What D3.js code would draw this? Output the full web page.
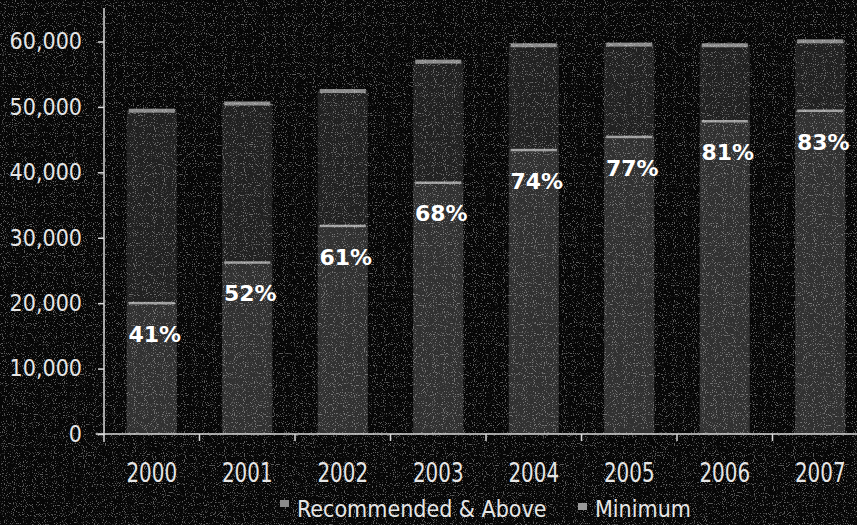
<!DOCTYPE html>
<html>
<head>
<meta charset="utf-8">
<script src="https://cdn.jsdelivr.net/npm/d3@7"></script>
<style>
  html, body { margin: 0; padding: 0; background: #070707; }
  svg { display: block; }
</style>
</head>
<body>
<svg id="chart" width="857" height="525"></svg>
<script>
// ---- data ----
const years = ["2000", "2001", "2002", "2003", "2004", "2005", "2006", "2007"];
const recommended = [20200, 26400, 32000, 38600, 43600, 45600, 48000, 49600];
const minimum = [29300, 24200, 20500, 18400, 15900, 14000, 11500, 10500];
const percentLabels = ["41%", "52%", "61%", "68%", "74%", "77%", "81%", "83%"];
const seriesNames = ["Recommended & Above", "Minimum"];
const yTicks = [0, 10000, 20000, 30000, 40000, 50000, 60000];

const svg = d3.select("#chart");
const W = 857, H = 525;
const condensed = "DejaVu Sans Condensed, DejaVu Sans, sans-serif";

// subtle speckle texture to mimic the scanned look
const defs = svg.append("defs");
const f = defs.append("filter").attr("id", "speckle").attr("x", 0).attr("y", 0).attr("width", "100%").attr("height", "100%");
f.append("feTurbulence").attr("type", "fractalNoise").attr("baseFrequency", 0.9).attr("numOctaves", 1).attr("seed", 3).attr("result", "n");
f.append("feColorMatrix").attr("in", "n").attr("type", "matrix")
  .attr("values", "0 0 0 0 1  0 0 0 0 1  0 0 0 0 1  0 0 0 9 -5.2");
f.append("feComposite").attr("in2", "SourceGraphic").attr("operator", "in");

svg.append("rect").attr("width", W).attr("height", H).attr("fill", "#070707");

const x0 = 104, bandW = 95.5;
const x = d3.scaleBand().domain(years).range([x0, x0 + bandW * years.length]).paddingInner(0.475).paddingOuter(0.2375);
const y = d3.scaleLinear().domain([0, 60000]).range([434, 41.5]);

const stackData = years.map((yr, i) => ({ year: yr, rec: recommended[i], min: minimum[i] }));
const stack = d3.stack().keys(["rec", "min"])(stackData);
const fills = ["#313131", "#212121"];
const caps = ["#a0a0a0", "#8c8c8c"];

const g = svg.append("g");
stack.forEach((layer, li) => {
  const grp = g.append("g");
  grp.selectAll("rect.seg").data(layer).join("rect")
    .attr("class", "seg")
    .attr("x", d => x(d.data.year))
    .attr("width", x.bandwidth())
    .attr("y", d => y(d[1]))
    .attr("height", d => y(d[0]) - y(d[1]))
    .attr("fill", fills[li]);
  grp.selectAll("rect.cap").data(layer).join("rect")
    .attr("class", "cap")
    .attr("x", d => x(d.data.year) + 2)
    .attr("width", x.bandwidth() - 4)
    .attr("y", d => y(d[1]) - 1.5)
    .attr("height", 4)
    .attr("fill", caps[li]);
});

// speckle overlay
svg.append("rect").attr("width", W).attr("height", H).attr("fill", "#fff").attr("filter", "url(#speckle)").attr("opacity", 0.35);

// percentage labels
svg.append("g").selectAll("text").data(stackData).join("text")
  .attr("x", (d, i) => x(d.year) + x.bandwidth() / 2 + 3)
  .attr("y", (d, i) => y(recommended[i]) + 40)
  .attr("text-anchor", "middle")
  .attr("font-family", "DejaVu Sans, Verdana, sans-serif")
  .attr("font-weight", "bold")
  .attr("font-size", 22)
  .attr("fill", "#ffffff")
  .text((d, i) => percentLabels[i]);

// y axis
const yAxis = d3.axisLeft(y).tickValues(yTicks).tickFormat(d3.format(",")).tickSize(6).tickPadding(16);
const ya = svg.append("g").attr("transform", `translate(${x0},0)`).call(yAxis);
ya.select(".domain").remove();
ya.selectAll("line").attr("stroke", "#d8d8d8").attr("stroke-width", 1.5);
ya.selectAll("text").attr("font-family", condensed).attr("font-size", 23).attr("fill", "#e6e6e6");
svg.append("line").attr("x1", x0).attr("x2", x0).attr("y1", 8).attr("y2", 442).attr("stroke", "#d8d8d8").attr("stroke-width", 1.5);

// x axis
const xAxis = d3.axisBottom(x).tickSize(0);
const xa = svg.append("g").attr("transform", `translate(0,${y(0)})`).call(xAxis);
xa.select(".domain").remove();
xa.selectAll("text")
  .attr("y", 48).attr("dy", 0)
  .attr("transform", "scale(0.85,1)")
  .attr("font-family", condensed).attr("font-size", 26).attr("fill", "#e6e6e6");
svg.append("line").attr("x1", 96).attr("x2", W).attr("y1", y(0)).attr("y2", y(0)).attr("stroke", "#d8d8d8").attr("stroke-width", 1.5);
// band boundary ticks
svg.append("g").selectAll("line").data(years.slice(1)).join("line")
  .attr("x1", d => x(d) - x.step() * x.paddingInner() / 2)
  .attr("x2", d => x(d) - x.step() * x.paddingInner() / 2)
  .attr("y1", y(0)).attr("y2", y(0) + 7)
  .attr("stroke", "#d8d8d8").attr("stroke-width", 1.5);

// legend
const legend = svg.append("g").attr("font-family", condensed).attr("font-size", 23).attr("fill", "#e6e6e6");
const legendX = [280, 578];
seriesNames.forEach((name, i) => {
  legend.append("rect").attr("x", legendX[i]).attr("y", 500 + i * 3).attr("width", 9).attr("height", 7).attr("fill", i === 0 ? "#8a8a8a" : "#9a9a9a");
  legend.append("text").attr("x", legendX[i] + 17).attr("y", 517).text(name);
});
</script>
</body>
</html>
